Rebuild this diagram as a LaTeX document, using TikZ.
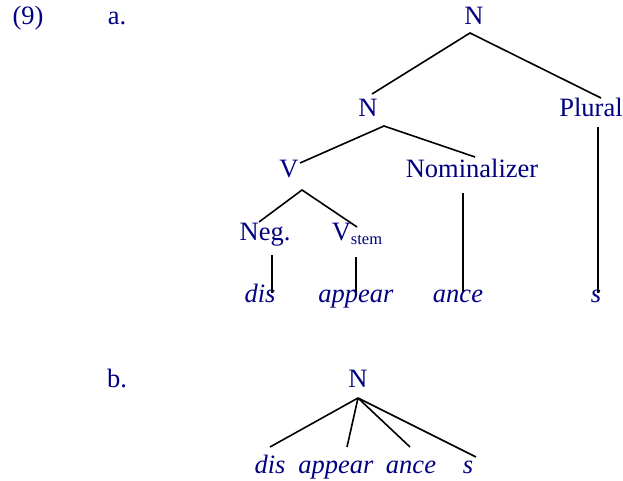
\documentclass[tikz,border=0pt]{standalone}
\usepackage{fontspec}
\setmainfont{Liberation Serif}
\definecolor{navy}{HTML}{000080}
\begin{document}
\begin{tikzpicture}[x=1pt,y=-1pt,
  lbl/.style={anchor=base,inner sep=0pt,text=navy,font=\fontsize{26.5}{30}\selectfont},
  word/.style={lbl,font=\fontsize{26.5}{30}\selectfont\itshape},
  branch/.style={draw=black,line width=1.6pt}]
\useasboundingbox (0,0) rectangle (623,481);
% labels
\node[lbl] (ex) at (28,25) {(9)};
\node[lbl] (a) at (117,25) {a.};
\node[lbl] (b) at (117,387) {b.};
% tree a
\node[lbl] (N1) at (474,25) {N};
\node[lbl] (N2) at (368,117) {N};
\node[lbl] (Pl) at (591,117) {Plural};
\node[lbl] (V) at (289,178) {V};
\node[lbl] (Nom) at (472,178) {Nominalizer};
\node[lbl] (Neg) at (265,240) {Neg.};
\node[lbl] (Vs) at (357,240) {V\raisebox{-4pt}{\fontsize{16.5}{16.5}\selectfont stem}};
\node[word] (dis) at (260,302) {dis};
\node[word] (app) at (356,302) {appear};
\node[word] (anc) at (458,302) {ance};
\node[word] (s) at (596,302) {s};
% line end points
\coordinate (N1b) at (470,33);
\coordinate (N2t) at (372,94);
\coordinate (Plt) at (601,98);
\coordinate (N2b) at (384,126);
\coordinate (Vt) at (300,163);
\coordinate (Nomt) at (475,157);
\coordinate (Vb) at (302,190);
\coordinate (Negt) at (259,222);
\coordinate (Vst) at (357,227);
\coordinate (Negb) at (272,255);
\coordinate (disT) at (272,293);
\coordinate (Vsb) at (356,257);
\coordinate (appT) at (356,292);
\coordinate (Nomb) at (463,193);
\coordinate (ancT) at (463,292);
\coordinate (Plb) at (598,127);
\coordinate (sT) at (598,293);
\draw[branch] (Nomt) -- (N2b) -- (Vt);
\draw[branch] (N2t) -- (N1b) -- (Plt);
\draw[branch] (Negt) -- (Vb) -- (Vst);
\draw[branch] (Negb) -- (disT);
\draw[branch] (Vsb) -- (appT);
\draw[branch] (Nomb) -- (ancT);
\draw[branch] (Plb) -- (sT);
% tree b
\node[lbl] (NB) at (358,387) {N};
\node[word] (bdis) at (270,473) {dis};
\node[word] (bapp) at (336,473) {appear};
\node[word] (banc) at (411,473) {ance};
\node[word] (bs) at (468,473) {s};
\coordinate (NBb) at (358,398);
\coordinate (bdisT) at (270,447);
\coordinate (bappT) at (347,447);
\coordinate (bancT) at (410,447);
\coordinate (bsT) at (476,457);
\draw[branch] (NBb) -- (bdisT);
\draw[branch] (NBb) -- (bappT);
\draw[branch] (NBb) -- (bancT);
\draw[branch] (NBb) -- (bsT);
\end{tikzpicture}
\end{document}
